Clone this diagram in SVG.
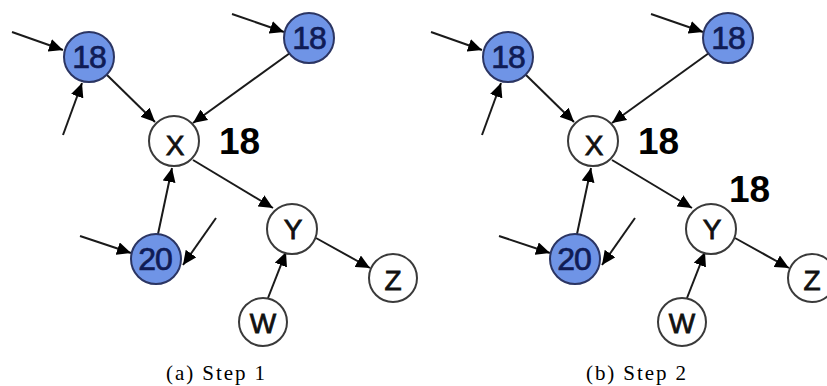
<svg xmlns="http://www.w3.org/2000/svg" width="827" height="386" viewBox="0 0 827 386">
<style>
.blue{fill:#6f94e6;stroke:#2b3563;stroke-width:2}
.white{fill:#ffffff;stroke:#3a3a3a;stroke-width:2}
.nt{font-family:"Liberation Sans",Arial,sans-serif;font-size:32px;letter-spacing:-1px;text-anchor:middle;fill:#101c55;stroke:#101c55;stroke-width:0.7}
.lt{font-family:"Liberation Sans",Arial,sans-serif;font-size:28px;text-anchor:middle;fill:#111;stroke:#111;stroke-width:0.8}
.big{font-family:"Liberation Sans",Arial,sans-serif;font-size:37px;font-weight:bold;fill:#000}
.cap{font-family:"Liberation Serif","Times New Roman",serif;font-size:21px;fill:#000}
.e{stroke:#1a1a1a;stroke-width:2;fill:none;marker-end:url(#ah)}
</style>
<defs>
<marker id="ah" markerUnits="userSpaceOnUse" markerWidth="15" markerHeight="13" refX="14" refY="6.5" orient="auto">
<path d="M0,0 L14,6.5 L0,13 z" fill="#000"/>
</marker>
</defs>
<rect width="827" height="386" fill="#fff"/>
<g id="connectors">
<line class="e" x1="12" y1="32" x2="63" y2="50"/>
<line class="e" x1="63" y1="135" x2="82" y2="83"/>
<line class="e" x1="107" y1="75" x2="155" y2="122"/>
<line class="e" x1="232" y1="14" x2="284" y2="32"/>
<line class="e" x1="290" y1="53" x2="193" y2="123"/>
<line class="e" x1="193" y1="160" x2="273" y2="208"/>
<line class="e" x1="158" y1="234" x2="172" y2="168"/>
<line class="e" x1="80" y1="236" x2="131" y2="253"/>
<line class="e" x1="216" y1="218" x2="183" y2="265"/>
<line class="e" x1="268" y1="298" x2="286" y2="252"/>
<line class="e" x1="316" y1="238" x2="370" y2="268"/>
<line class="e" x1="431" y1="32" x2="482" y2="50"/>
<line class="e" x1="482" y1="135" x2="501" y2="83"/>
<line class="e" x1="526" y1="75" x2="574" y2="122"/>
<line class="e" x1="651" y1="14" x2="703" y2="32"/>
<line class="e" x1="709" y1="53" x2="612" y2="123"/>
<line class="e" x1="612" y1="160" x2="692" y2="208"/>
<line class="e" x1="577" y1="234" x2="591" y2="168"/>
<line class="e" x1="499" y1="236" x2="550" y2="253"/>
<line class="e" x1="635" y1="218" x2="602" y2="265"/>
<line class="e" x1="687" y1="298" x2="705" y2="252"/>
<line class="e" x1="735" y1="238" x2="789" y2="268"/>
</g>
<g id="a-n18-left"><circle class="blue" cx="89" cy="57" r="25"/><text class="nt" x="89" y="68">18</text></g>
<g id="a-n18-right"><circle class="blue" cx="309" cy="38" r="25"/><text class="nt" x="309" y="49">18</text></g>
<g id="a-X"><circle class="white" cx="174" cy="141" r="25"/><text class="lt" x="175" y="155">X</text></g>
<g id="a-n20"><circle class="blue" cx="156" cy="259" r="25"/><text class="nt" x="155" y="270">20</text></g>
<g id="a-Y"><circle class="white" cx="292" cy="229" r="25"/><text class="lt" x="293" y="239">Y</text></g>
<g id="a-Z"><circle class="white" cx="393" cy="278" r="24"/><text class="lt" x="393" y="290">Z</text></g>
<g id="a-W"><circle class="white" cx="263" cy="322" r="24"/><text class="lt" x="263" y="333">W</text></g>
<text class="big" x="219" y="154">18</text>
<text class="cap" x="166" y="380" textLength="99" lengthAdjust="spacing">(a)  Step 1</text>
<g id="b-n18-left"><circle class="blue" cx="508" cy="57" r="25"/><text class="nt" x="508" y="68">18</text></g>
<g id="b-n18-right"><circle class="blue" cx="728" cy="38" r="25"/><text class="nt" x="728" y="49">18</text></g>
<g id="b-X"><circle class="white" cx="593" cy="141" r="25"/><text class="lt" x="594" y="155">X</text></g>
<g id="b-n20"><circle class="blue" cx="575" cy="259" r="25"/><text class="nt" x="574" y="270">20</text></g>
<g id="b-Y"><circle class="white" cx="711" cy="229" r="25"/><text class="lt" x="712" y="239">Y</text></g>
<g id="b-Z"><circle class="white" cx="812" cy="278" r="24"/><text class="lt" x="812" y="290">Z</text></g>
<g id="b-W"><circle class="white" cx="682" cy="322" r="24"/><text class="lt" x="682" y="333">W</text></g>
<text class="big" x="638" y="154">18</text>
<text class="big" x="729" y="202">18</text>
<text class="cap" x="586" y="380" textLength="100" lengthAdjust="spacing">(b)  Step 2</text>
</svg>
